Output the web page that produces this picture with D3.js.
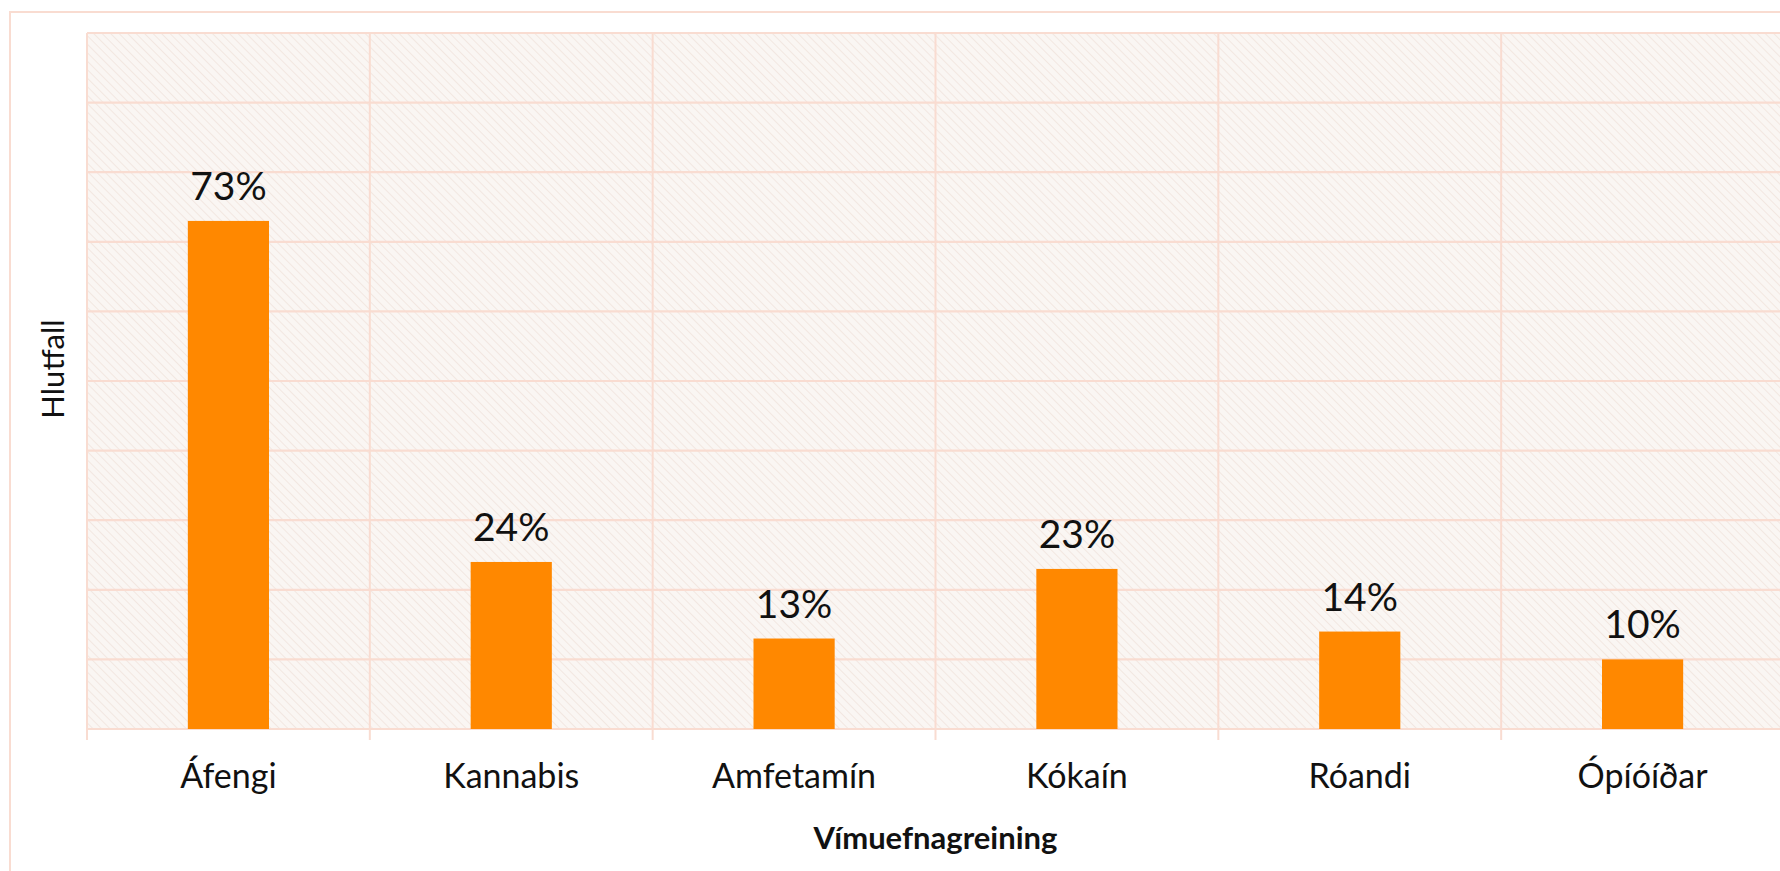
<!DOCTYPE html>
<html>
<head>
<meta charset="utf-8">
<script src="https://cdn.jsdelivr.net/npm/d3@7"></script>
<style>
  html, body { margin: 0; padding: 0; background: #ffffff; }
  svg { display: block; }
  text { font-family: Lato, "Open Sans", sans-serif; fill: #111; }
</style>
</head>
<body>
<svg id="chart" width="1780" height="871"></svg>
<script>
const categories = ["Áfengi", "Kannabis", "Amfetamín", "Kókaín", "Róandi", "Ópíóíðar"];
const values = [0.73, 0.24, 0.13, 0.23, 0.14, 0.10];
const valueLabels = ["73%", "24%", "13%", "23%", "14%", "10%"];
const yTicks = [0, 0.1, 0.2, 0.3, 0.4, 0.5, 0.6, 0.7, 0.8, 0.9, 1.0];
const xTitle = "Vímuefnagreining";
const yTitle = "Hlutfall";

const svg = d3.select("#chart");
const W = 1780, H = 871;
const plot = { left: 87, top: 33, right: 1784, bottom: 729 };
const gridColor = "#f9dcd1";

const x = d3.scaleBand().domain(categories).range([plot.left, plot.right]).padding(0);
const y = d3.scaleLinear().domain([0, 1]).range([plot.bottom, plot.top]);

// pattern for plot background
const defs = svg.append("defs");
const pat = defs.append("pattern")
  .attr("id", "hatch").attr("patternUnits", "userSpaceOnUse")
  .attr("width", 6).attr("height", 6)
  .attr("patternTransform", "rotate(-45)");
pat.append("rect").attr("width", 6).attr("height", 6).attr("fill", "#faf6f3");
pat.append("line").attr("x1", 0).attr("y1", 0).attr("x2", 0).attr("y2", 6)
  .attr("stroke", "#f2e7e1").attr("stroke-width", 2);

// outer chart border
svg.append("rect")
  .attr("x", 10).attr("y", 12).attr("width", W + 20).attr("height", H + 20)
  .attr("fill", "#ffffff").attr("stroke", gridColor).attr("stroke-width", 2);

// plot background
svg.append("rect")
  .attr("x", plot.left).attr("y", plot.top)
  .attr("width", plot.right - plot.left).attr("height", plot.bottom - plot.top)
  .attr("fill", "url(#hatch)");

// horizontal gridlines
svg.append("g").selectAll("line").data(yTicks).join("line")
  .attr("x1", plot.left).attr("x2", plot.right)
  .attr("y1", d => y(d)).attr("y2", d => y(d))
  .attr("stroke", gridColor).attr("stroke-width", 2.2);

// vertical category boundaries (with tick marks below axis)
const bounds = categories.map(c => x(c)).concat([x(categories[categories.length - 1]) + x.bandwidth()]);
svg.append("g").selectAll("line").data(bounds).join("line")
  .attr("x1", d => d).attr("x2", d => d)
  .attr("y1", plot.top).attr("y2", plot.bottom + 11)
  .attr("stroke", gridColor).attr("stroke-width", 2);

// bars
const barW = x.bandwidth() * 0.287;
svg.append("g").selectAll("rect").data(categories).join("rect")
  .attr("x", (d) => x(d) + x.bandwidth() / 2 - barW / 2)
  .attr("y", (d, i) => y(values[i]))
  .attr("width", barW)
  .attr("height", (d, i) => y(0) - y(values[i]))
  .attr("fill", "#ff8800");

// value labels
svg.append("g").selectAll("text").data(categories).join("text")
  .attr("x", d => x(d) + x.bandwidth() / 2)
  .attr("y", (d, i) => y(values[i]) - 21)
  .attr("text-anchor", "middle")
  .style("font-size", "39px")
  .text((d, i) => valueLabels[i]);

// category labels
svg.append("g").selectAll("text").data(categories).join("text")
  .attr("x", d => x(d) + x.bandwidth() / 2)
  .attr("y", 788)
  .attr("text-anchor", "middle")
  .style("font-size", "34px")
  .text(d => d);

// x title
svg.append("text")
  .attr("x", (plot.left + plot.right) / 2).attr("y", 849)
  .attr("text-anchor", "middle")
  .style("font-size", "31px").style("font-weight", "bold")
  .text(xTitle);

// y title
svg.append("text")
  .attr("transform", "translate(64,369) rotate(-90)")
  .attr("text-anchor", "middle")
  .style("font-size", "31px")
  .text(yTitle);
</script>
</body>
</html>
